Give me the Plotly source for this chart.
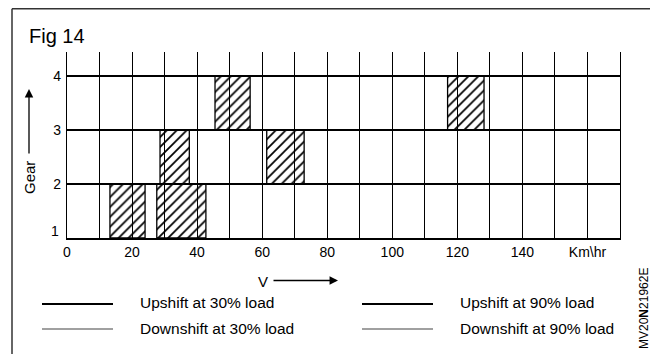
import plotly.graph_objects as go

# ---- data ----
band_gear = [1, 1, 2, 2, 3, 3]            # lower gear of each shift band
band_start = [13.2, 27.6, 28.6, 61.4, 45.5, 117.0]   # km/h
band_end = [24.0, 42.7, 37.6, 72.9, 56.3, 128.2]     # km/h
x_ticks = [0, 10, 20, 30, 40, 50, 60, 70, 80, 90, 100, 110, 120, 130, 140, 150, 160, 170]
x_labels = ["0", "", "20", "", "40", "", "60", "", "80", "", "100", "", "120", "", "140", "", "Km\\hr", ""]
gears = [1, 2, 3, 4]
gear_labels = ["", "2", "3", "4"]
legend_items = ["Upshift at 30% load", "Downshift at 30% load",
                "Upshift at 90% load", "Downshift at 90% load"]

# page has an 8px body margin: shrink figure so it fits the 658x354 window
OFF = 8
W, H = 658 - OFF, 354 - OFF
PL, PR, PT, PB = 67, 620, 52, 238          # plot area in window pixels
L, T = PL - OFF, PT - OFF
R, B = W - (PR - OFF), H - (PB - OFF)
PW, PH = PR - PL, PB - PT


def px(x):
    return (x - PL) / PW


def py(y):
    return (PB - y) / PH


FONT = "Liberation Sans, Arial, sans-serif"

fig = go.Figure()
fig.add_trace(go.Bar(
    orientation="h",
    y=[g + 0.5 for g in band_gear],
    base=band_start,
    x=[e - s for s, e in zip(band_start, band_end)],
    width=1,
    marker=dict(color="black",
                line=dict(color="black", width=1.3),
                pattern=dict(shape="/", size=7, solidity=0.25,
                             fgcolor="black", bgcolor="rgba(0,0,0,0)",
                             fillmode="replace")),
    showlegend=False, hoverinfo="skip",
))

fig.update_xaxes(range=[0, 170], tickvals=x_ticks, ticktext=x_labels,
                 showgrid=True, gridcolor="black", gridwidth=1.3,
                 zeroline=False, showline=True, linecolor="black", linewidth=1.6,
                 ticks="", ticklabelstandoff=0,
                 tickfont=dict(family=FONT, size=14, color="black"))
fig.update_yaxes(range=[1, 4.45], tickvals=gears, ticktext=gear_labels,
                 showgrid=True, gridcolor="black", gridwidth=1.5,
                 zeroline=False, showline=True, mirror=True,
                 linecolor="black", linewidth=1.3,
                 ticks="", ticklabelstandoff=2,
                 tickfont=dict(family=FONT, size=14, color="black"))

shapes = [
    # frame
    dict(type="line", xref="paper", yref="paper", x0=px(12), x1=px(12), y0=py(8.7), y1=py(360),
         line=dict(color="#333", width=1.5)),
    dict(type="line", xref="paper", yref="paper", x0=px(12), x1=px(660), y0=py(8.7), y1=py(8.7),
         line=dict(color="#333", width=1.5)),
]
# legend sample lines
for (x0, x1) in [(42, 113), (362, 433)]:
    shapes.append(dict(type="line", xref="paper", yref="paper", x0=px(x0), x1=px(x1),
                       y0=py(304), y1=py(304), line=dict(color="black", width=2)))
    shapes.append(dict(type="line", xref="paper", yref="paper", x0=px(x0), x1=px(x1),
                       y0=py(329), y1=py(329), line=dict(color="#808080", width=1.4)))

ann = [
    dict(text="Fig 14", x=px(27), y=py(36), xanchor="left", yanchor="middle",
         font=dict(family=FONT, size=20, color="black")),
    dict(text="1", x=px(61), y=py(231), xanchor="right", yanchor="middle",
         font=dict(family=FONT, size=14, color="black")),
    dict(text="Gear", x=px(29), y=py(178), xanchor="center", yanchor="middle", textangle=-90,
         font=dict(family=FONT, size=15, color="black")),
    # gear arrow
    dict(text="", x=px(29), y=py(89), ax=0, ay=66, showarrow=True, arrowhead=2,
         arrowsize=1.3, arrowwidth=1.3, arrowcolor="black"),
    dict(text="V", x=px(263), y=py(281), xanchor="center", yanchor="middle",
         font=dict(family=FONT, size=15, color="black")),
    dict(text="", x=px(338), y=py(280.5), ax=-66, ay=0, showarrow=True, arrowhead=2,
         arrowsize=1.3, arrowwidth=1.3, arrowcolor="black"),
    dict(text="MV20<b>N</b>21962E", x=px(644), y=py(309), xanchor="center", yanchor="middle",
         textangle=-90, font=dict(family=FONT, size=12, color="black")),
]
for txt, x, y in zip(legend_items, [138, 138, 458, 458], [302, 328, 302, 328]):
    ann.append(dict(text=txt, x=px(x), y=py(y), xanchor="left", yanchor="middle",
                    font=dict(family=FONT, size=15.5, color="black")))
for a in ann:
    a.setdefault("xref", "paper")
    a.setdefault("yref", "paper")
    a.setdefault("showarrow", False)
    if a.get("showarrow"):
        a["axref"] = "pixel"
        a["ayref"] = "pixel"

fig.update_layout(
    width=W, height=H,
    margin=dict(l=L, r=R, t=T, b=B, pad=0, autoexpand=False),
    paper_bgcolor="white", plot_bgcolor="white",
    shapes=shapes, annotations=ann,
    showlegend=False,
)

fig.write_html("out.html")
